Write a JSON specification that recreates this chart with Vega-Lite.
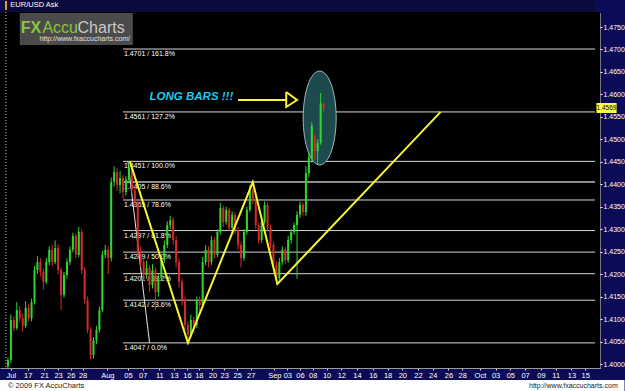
{
  "$schema": "https://vega.github.io/schema/vega-lite/v6.json",
  "width": 600,
  "height": 356,
  "autosize": {"type": "none"},
  "padding": {"left": 0, "top": 12, "right": 25, "bottom": 23},
  "background": "#0b0b58",
  "config": {
    "view": {"fill": "#000000", "stroke": null},
    "font": "Liberation Sans",
    "text": {"font": "Liberation Sans"}
  },
  "resolve": {"axis": {"x": "independent", "y": "independent"}},
  "datasets": {
    "candles": [
      {"t":1,"o":1.3995,"h":1.4014,"l":1.3991,"c":1.4009},
      {"t":2,"o":1.4009,"h":1.4110,"l":1.4002,"c":1.4098},
      {"t":3,"o":1.4098,"h":1.4106,"l":1.4073,"c":1.4080},
      {"t":4,"o":1.4080,"h":1.4138,"l":1.4076,"c":1.4120},
      {"t":5,"o":1.4120,"h":1.4129,"l":1.4094,"c":1.4102},
      {"t":6,"o":1.4102,"h":1.4112,"l":1.4072,"c":1.4085},
      {"t":7,"o":1.4085,"h":1.4140,"l":1.4080,"c":1.4125},
      {"t":8,"o":1.4125,"h":1.4133,"l":1.4095,"c":1.4102},
      {"t":9,"o":1.4102,"h":1.4145,"l":1.4095,"c":1.4138},
      {"t":10,"o":1.4138,"h":1.4218,"l":1.4132,"c":1.4209},
      {"t":11,"o":1.4209,"h":1.4240,"l":1.4200,"c":1.4227},
      {"t":12,"o":1.4227,"h":1.4235,"l":1.4195,"c":1.4205},
      {"t":13,"o":1.4205,"h":1.4212,"l":1.4165,"c":1.4183},
      {"t":14,"o":1.4183,"h":1.4236,"l":1.4178,"c":1.4227},
      {"t":15,"o":1.4227,"h":1.4262,"l":1.4220,"c":1.4254},
      {"t":16,"o":1.4254,"h":1.4265,"l":1.4218,"c":1.4227},
      {"t":17,"o":1.4227,"h":1.4275,"l":1.4222,"c":1.4258},
      {"t":18,"o":1.4258,"h":1.4266,"l":1.4200,"c":1.4209},
      {"t":19,"o":1.4209,"h":1.4215,"l":1.4120,"c":1.4154},
      {"t":20,"o":1.4154,"h":1.4205,"l":1.4148,"c":1.4198},
      {"t":21,"o":1.4198,"h":1.4235,"l":1.4190,"c":1.4227},
      {"t":22,"o":1.4227,"h":1.4262,"l":1.4220,"c":1.4254},
      {"t":23,"o":1.4254,"h":1.4292,"l":1.4248,"c":1.4285},
      {"t":24,"o":1.4285,"h":1.4290,"l":1.4236,"c":1.4243},
      {"t":25,"o":1.4243,"h":1.4305,"l":1.4238,"c":1.4294},
      {"t":26,"o":1.4294,"h":1.4300,"l":1.4200,"c":1.4209},
      {"t":27,"o":1.4209,"h":1.4215,"l":1.4135,"c":1.4142},
      {"t":28,"o":1.4142,"h":1.4150,"l":1.4068,"c":1.4076},
      {"t":29,"o":1.4076,"h":1.4082,"l":1.4010,"c":1.4020},
      {"t":30,"o":1.4020,"h":1.4060,"l":1.4012,"c":1.4053},
      {"t":31,"o":1.4053,"h":1.4085,"l":1.4045,"c":1.4076},
      {"t":32,"o":1.4076,"h":1.4128,"l":1.4070,"c":1.4120},
      {"t":33,"o":1.4120,"h":1.4252,"l":1.4115,"c":1.4243},
      {"t":34,"o":1.4243,"h":1.4265,"l":1.4235,"c":1.4254},
      {"t":35,"o":1.4254,"h":1.4262,"l":1.4200,"c":1.4236},
      {"t":36,"o":1.4236,"h":1.4415,"l":1.4228,"c":1.4405},
      {"t":37,"o":1.4405,"h":1.4440,"l":1.4395,"c":1.4427},
      {"t":38,"o":1.4427,"h":1.4436,"l":1.4385,"c":1.4398},
      {"t":39,"o":1.4398,"h":1.4430,"l":1.4380,"c":1.4414},
      {"t":40,"o":1.4414,"h":1.4420,"l":1.4368,"c":1.4383},
      {"t":41,"o":1.4383,"h":1.4418,"l":1.4375,"c":1.4410},
      {"t":42,"o":1.4410,"h":1.4451,"l":1.4402,"c":1.4436},
      {"t":43,"o":1.4436,"h":1.4442,"l":1.4380,"c":1.4387},
      {"t":44,"o":1.4387,"h":1.4395,"l":1.4350,"c":1.4361},
      {"t":45,"o":1.4361,"h":1.4368,"l":1.4232,"c":1.4243},
      {"t":46,"o":1.4243,"h":1.4262,"l":1.4215,"c":1.4227},
      {"t":47,"o":1.4227,"h":1.4235,"l":1.4185,"c":1.4198},
      {"t":48,"o":1.4198,"h":1.4230,"l":1.4190,"c":1.4214},
      {"t":49,"o":1.4214,"h":1.4220,"l":1.4160,"c":1.4176},
      {"t":50,"o":1.4176,"h":1.4222,"l":1.4168,"c":1.4209},
      {"t":51,"o":1.4209,"h":1.4215,"l":1.4120,"c":1.4160},
      {"t":52,"o":1.4160,"h":1.4200,"l":1.4150,"c":1.4191},
      {"t":53,"o":1.4191,"h":1.4240,"l":1.4185,"c":1.4231},
      {"t":54,"o":1.4231,"h":1.4275,"l":1.4225,"c":1.4265},
      {"t":55,"o":1.4265,"h":1.4318,"l":1.4258,"c":1.4309},
      {"t":56,"o":1.4309,"h":1.4330,"l":1.4300,"c":1.4320},
      {"t":57,"o":1.4320,"h":1.4326,"l":1.4265,"c":1.4276},
      {"t":58,"o":1.4276,"h":1.4285,"l":1.4215,"c":1.4227},
      {"t":59,"o":1.4227,"h":1.4235,"l":1.4170,"c":1.4183},
      {"t":60,"o":1.4183,"h":1.4190,"l":1.4130,"c":1.4142},
      {"t":61,"o":1.4142,"h":1.4150,"l":1.4075,"c":1.4087},
      {"t":62,"o":1.4087,"h":1.4095,"l":1.4047,"c":1.4065},
      {"t":63,"o":1.4065,"h":1.4110,"l":1.4058,"c":1.4098},
      {"t":64,"o":1.4098,"h":1.4105,"l":1.4070,"c":1.4087},
      {"t":65,"o":1.4087,"h":1.4150,"l":1.4080,"c":1.4142},
      {"t":66,"o":1.4142,"h":1.4150,"l":1.4110,"c":1.4131},
      {"t":67,"o":1.4131,"h":1.4238,"l":1.4125,"c":1.4227},
      {"t":68,"o":1.4227,"h":1.4265,"l":1.4220,"c":1.4254},
      {"t":69,"o":1.4254,"h":1.4262,"l":1.4215,"c":1.4227},
      {"t":70,"o":1.4227,"h":1.4285,"l":1.4220,"c":1.4276},
      {"t":71,"o":1.4276,"h":1.4282,"l":1.4235,"c":1.4243},
      {"t":72,"o":1.4243,"h":1.4300,"l":1.4238,"c":1.4294},
      {"t":73,"o":1.4294,"h":1.4358,"l":1.4288,"c":1.4347},
      {"t":74,"o":1.4347,"h":1.4352,"l":1.4305,"c":1.4316},
      {"t":75,"o":1.4316,"h":1.4350,"l":1.4310,"c":1.4343},
      {"t":76,"o":1.4343,"h":1.4348,"l":1.4295,"c":1.4303},
      {"t":77,"o":1.4303,"h":1.4340,"l":1.4296,"c":1.4332},
      {"t":78,"o":1.4332,"h":1.4338,"l":1.4290,"c":1.4298},
      {"t":79,"o":1.4298,"h":1.4305,"l":1.4255,"c":1.4265},
      {"t":80,"o":1.4265,"h":1.4272,"l":1.4215,"c":1.4236},
      {"t":81,"o":1.4236,"h":1.4300,"l":1.4230,"c":1.4294},
      {"t":82,"o":1.4294,"h":1.4350,"l":1.4288,"c":1.4343},
      {"t":83,"o":1.4343,"h":1.4398,"l":1.4338,"c":1.4387},
      {"t":84,"o":1.4387,"h":1.4392,"l":1.4355,"c":1.4365},
      {"t":85,"o":1.4365,"h":1.4372,"l":1.4300,"c":1.4309},
      {"t":86,"o":1.4309,"h":1.4315,"l":1.4268,"c":1.4276},
      {"t":87,"o":1.4276,"h":1.4325,"l":1.4270,"c":1.4316},
      {"t":88,"o":1.4316,"h":1.4362,"l":1.4310,"c":1.4354},
      {"t":89,"o":1.4354,"h":1.4360,"l":1.4295,"c":1.4303},
      {"t":90,"o":1.4303,"h":1.4310,"l":1.4255,"c":1.4265},
      {"t":91,"o":1.4265,"h":1.4272,"l":1.4210,"c":1.4220},
      {"t":92,"o":1.4220,"h":1.4228,"l":1.4178,"c":1.4191},
      {"t":93,"o":1.4191,"h":1.4236,"l":1.4185,"c":1.4227},
      {"t":94,"o":1.4227,"h":1.4262,"l":1.4220,"c":1.4254},
      {"t":95,"o":1.4254,"h":1.4260,"l":1.4222,"c":1.4231},
      {"t":96,"o":1.4231,"h":1.4285,"l":1.4225,"c":1.4276},
      {"t":97,"o":1.4276,"h":1.4300,"l":1.4268,"c":1.4294},
      {"t":98,"o":1.4294,"h":1.4315,"l":1.4288,"c":1.4309},
      {"t":99,"o":1.4309,"h":1.4340,"l":1.4190,"c":1.4332},
      {"t":100,"o":1.4332,"h":1.4362,"l":1.4325,"c":1.4354},
      {"t":101,"o":1.4354,"h":1.4360,"l":1.4330,"c":1.4338},
      {"t":102,"o":1.4338,"h":1.4440,"l":1.4330,"c":1.4425},
      {"t":103,"o":1.4425,"h":1.4470,"l":1.4415,"c":1.4460},
      {"t":104,"o":1.4455,"h":1.4538,"l":1.4448,"c":1.4530},
      {"t":105,"o":1.4505,"h":1.4512,"l":1.4455,"c":1.4474},
      {"t":106,"o":1.4474,"h":1.4500,"l":1.4445,"c":1.4492},
      {"t":107,"o":1.4492,"h":1.4603,"l":1.4488,"c":1.4580},
      {"t":108,"o":1.4578,"h":1.4582,"l":1.4560,"c":1.4569}
    ],
    "fib": [
      {"p":1.4701,"label":"1.4701 / 161.8%","pct":"161.8"},
      {"p":1.4561,"label":"1.4561 / 127.2%","pct":"127.2"},
      {"p":1.4451,"label":"1.4451 / 100.0%","pct":"100.0"},
      {"p":1.4405,"label":"1.4405 / 88.6%","pct":"88.6"},
      {"p":1.4365,"label":"1.4365 / 78.6%","pct":"78.6"},
      {"p":1.4297,"label":"1.4297 / 61.8%","pct":"61.8"},
      {"p":1.4249,"label":"1.4249 / 50.0%","pct":"50.0"},
      {"p":1.4201,"label":"1.4201 / 38.2%","pct":"38.2"},
      {"p":1.4142,"label":"1.4142 / 23.6%","pct":"23.6"},
      {"p":1.4047,"label":"1.4047 / 0.0%","pct":"0.0"}
    ],
    "zig": [
      {"t":42.33,"p":1.4451,"i":0},
      {"t":62,"p":1.4047,"i":1},
      {"t":84,"p":1.4405,"i":2},
      {"t":92.33,"p":1.4178,"i":3},
      {"t":147.67,"p":1.4561,"i":4}
    ],
    "diag": [
      {"t":41.67,"p":1.4451,"i":0},
      {"t":49,"p":1.4047,"i":1}
    ],
    "head": [
      {"t":95.33,"p":1.46054,"i":0},
      {"t":99,"p":1.45876,"i":1},
      {"t":95.33,"p":1.4572,"i":2},
      {"t":95.33,"p":1.46054,"i":3}
    ],
    "ellipse": [{"t":106.67,"p":1.45475}]
  },
  "layer": [
    {
      "data": {"values": [{"name": "titlebar"}]},
      "mark": {"type": "rect", "color": "#0a0a3c"},
      "encoding": {
        "x": {"datum": -1, "type": "quantitative", "scale": {"domain": [0, 200], "nice": false, "zero": false}, "axis": null},
        "x2": {"datum": 200},
        "y": {"datum": 1.47834, "type": "quantitative", "scale": {"domain": [1.39911, 1.47834], "nice": false, "zero": false}, "axis": null},
        "y2": {"datum": 1.4815}
      }
    },
    {
      "data": {"values": [{"name": "marker"}]},
      "mark": {"type": "rect", "color": "#e8a020"},
      "encoding": {
        "x": {"datum": 0, "type": "quantitative", "scale": {"domain": [0, 200], "nice": false, "zero": false}, "axis": null},
        "x2": {"datum": 0.67},
        "y": {"datum": 1.47878, "type": "quantitative", "scale": {"domain": [1.39911, 1.47834], "nice": false, "zero": false}, "axis": null},
        "y2": {"datum": 1.48078}
      }
    },
    {
      "data": {"values": [{"name": "footer"}]},
      "mark": {"type": "rect", "color": "#ffffff"},
      "encoding": {
        "x": {"datum": -2, "type": "quantitative", "scale": {"domain": [0, 200], "nice": false, "zero": false}, "axis": null},
        "x2": {"datum": 210},
        "y": {"datum": 1.3930, "type": "quantitative", "scale": {"domain": [1.39911, 1.47834], "nice": false, "zero": false}, "axis": null},
        "y2": {"datum": 1.39644}
      }
    },
    {
      "data": {"values": [{"name": "logo"}]},
      "mark": {"type": "rect", "color": "#4b4b4b"},
      "encoding": {
        "x": {"datum": 5, "type": "quantitative", "scale": {"domain": [0, 200], "nice": false, "zero": false}, "axis": null},
        "x2": {"datum": 43.33},
        "y": {"datum": 1.471, "type": "quantitative", "scale": {"domain": [1.39911, 1.47834], "nice": false, "zero": false}, "axis": null},
        "y2": {"datum": 1.47812}
      }
    },
    {
      "data": {"name": "fib"},
      "mark": {"type": "rule"},
      "encoding": {
        "x": {"datum": 40, "type": "quantitative", "scale": {"domain": [0, 200], "nice": false, "zero": false}, "axis": null},
        "x2": {"datum": 200},
        "y": {"field": "p", "type": "quantitative", "scale": {"domain": [1.39911, 1.47834], "nice": false, "zero": false}, "axis": null},
        "color": {"condition": {"test": "datum.pct == '88.6'", "value": "#8c8c8c"}, "value": "#d8d8d8"},
        "strokeWidth": {"condition": {"test": "datum.pct == '88.6'", "value": 2}, "value": 1}
      }
    },
    {
      "data": {"name": "fib"},
      "mark": {"type": "text", "align": "left", "baseline": "middle", "dy": 5, "fontSize": 7, "color": "#ffffff"},
      "encoding": {
        "x": {"datum": 40.3, "type": "quantitative", "scale": {"domain": [0, 200], "nice": false, "zero": false}, "axis": null},
        "y": {"field": "p", "type": "quantitative", "scale": {"domain": [1.39911, 1.47834], "nice": false, "zero": false}, "axis": null},
        "text": {"field": "label"}
      }
    },
    {
      "data": {"name": "diag"},
      "mark": {"type": "line", "color": "#e8e8e8", "strokeWidth": 1},
      "encoding": {
        "x": {"field": "t", "type": "quantitative", "scale": {"domain": [0, 200], "nice": false, "zero": false}, "axis": null},
        "y": {"field": "p", "type": "quantitative", "scale": {"domain": [1.39911, 1.47834], "nice": false, "zero": false}, "axis": null},
        "order": {"field": "i"}
      }
    },
    {
      "data": {"name": "ellipse"},
      "mark": {"type": "point", "shape": "M0.351,0C0.351,0.552,0.194,1,0,1C-0.194,1,-0.351,0.552,-0.351,0C-0.351,-0.552,-0.194,-1,0,-1C0.194,-1,0.351,-0.552,0.351,0Z", "size": 8836, "filled": true, "fill": "#1d4a4c", "stroke": "#a4b8b8", "strokeWidth": 1, "opacity": 1, "fillOpacity": 1, "strokeOpacity": 1},
      "encoding": {
        "x": {"field": "t", "type": "quantitative", "scale": {"domain": [0, 200], "nice": false, "zero": false}, "axis": null},
        "y": {"field": "p", "type": "quantitative", "scale": {"domain": [1.39911, 1.47834], "nice": false, "zero": false}, "axis": null}
      }
    },
    {
      "data": {"name": "candles"},
      "mark": {"type": "rule", "strokeWidth": 1},
      "encoding": {
        "x": {"field": "t", "type": "quantitative", "scale": {"domain": [0, 200], "nice": false, "zero": false}, "axis": null},
        "y": {"field": "l", "type": "quantitative", "scale": {"domain": [1.39911, 1.47834], "nice": false, "zero": false}, "axis": null},
        "y2": {"field": "h"},
        "color": {"condition": {"test": "datum.c >= datum.o", "value": "#2fd62f"}, "value": "#d42a2a"}
      }
    },
    {
      "data": {"name": "candles"},
      "mark": {"type": "bar", "width": 2},
      "encoding": {
        "x": {"field": "t", "type": "quantitative", "scale": {"domain": [0, 200], "nice": false, "zero": false},
          "axis": {"orient": "bottom", "title": null, "grid": false,
            "values": [2,7.7,13.3,18,22.3,26.3,34.7,41.7,46.7,52.3,57.3,61.7,65.7,70.3,74.3,78.7,83.3,91.3,95.7,100,104.3,109,114,119.3,124.7,129.7,134.7,140,145,150.3,155,161,166.3,171.3,176.3,181.7,186.7,192,196.7],
            "labelExpr": "['Jul','17','21','23','26','28','Aug','05','07','11','13','16','18','20','23','25','27','Sep','03','06','08','10','12','14','16','18','20','22','24','26','28','Oct','03','05','07','09','11','13','15'][indexof([2,7.7,13.3,18,22.3,26.3,34.7,41.7,46.7,52.3,57.3,61.7,65.7,70.3,74.3,78.7,83.3,91.3,95.7,100,104.3,109,114,119.3,124.7,129.7,134.7,140,145,150.3,155,161,166.3,171.3,176.3,181.7,186.7,192,196.7], datum.value)]",
            "labelColor": "#ffffff", "labelFont": "Liberation Sans", "labelFontSize": 7.5, "labelPadding": 1,
            "labelOverlap": false, "labelFlush": false, "labelBound": false,
            "tickColor": "#dddddd", "tickSize": 2, "domainColor": "#9a9a9a"}},
        "y": {"field": "o", "type": "quantitative", "scale": {"domain": [1.39911, 1.47834], "nice": false, "zero": false},
          "axis": {"orient": "right", "title": null, "grid": false,
            "values": [1.4,1.405,1.41,1.415,1.42,1.425,1.43,1.435,1.44,1.445,1.45,1.455,1.46,1.465,1.47,1.475],
            "format": ".4f", "labelColor": "#ffffff", "labelFont": "Liberation Sans", "labelFontSize": 7, "labelPadding": 1,
            "labelOverlap": false, "labelFlush": false, "labelBound": false,
            "tickColor": "#ffffff", "tickSize": 2, "domainColor": "#e8e0a8", "domainDash": [1, 1]}},
        "y2": {"field": "c"},
        "color": {"condition": {"test": "datum.c >= datum.o", "value": "#2fd62f"}, "value": "#d42a2a"}
      }
    },
    {
      "data": {"name": "zig"},
      "mark": {"type": "line", "color": "#f5f532", "strokeWidth": 2},
      "encoding": {
        "x": {"field": "t", "type": "quantitative", "scale": {"domain": [0, 200], "nice": false, "zero": false}, "axis": null},
        "y": {"field": "p", "type": "quantitative", "scale": {"domain": [1.39911, 1.47834], "nice": false, "zero": false}, "axis": null},
        "order": {"field": "i"}
      }
    },
    {
      "data": {"name": "head"},
      "mark": {"type": "line", "color": "#f5f532", "strokeWidth": 2},
      "encoding": {
        "x": {"field": "t", "type": "quantitative", "scale": {"domain": [0, 200], "nice": false, "zero": false}, "axis": null},
        "y": {"field": "p", "type": "quantitative", "scale": {"domain": [1.39911, 1.47834], "nice": false, "zero": false}, "axis": null},
        "order": {"field": "i"}
      }
    },
    {
      "data": {"values": [{"name": "shaft"}]},
      "mark": {"type": "rule", "color": "#f5f532", "strokeWidth": 2},
      "encoding": {
        "x": {"datum": 79, "type": "quantitative", "scale": {"domain": [0, 200], "nice": false, "zero": false}, "axis": null},
        "x2": {"datum": 95.33},
        "y": {"datum": 1.45876, "type": "quantitative", "scale": {"domain": [1.39911, 1.47834], "nice": false, "zero": false}, "axis": null}
      }
    },
    {
      "data": {"values": [{"name": "leftaxis"}]},
      "mark": {"type": "rule", "color": "#cccccc", "strokeDash": [1, 2], "strokeWidth": 1},
      "encoding": {
        "x": {"datum": 0.3, "type": "quantitative", "scale": {"domain": [0, 200], "nice": false, "zero": false}, "axis": null}
      }
    },
    {
      "data": {"values": [{"name": "pricetag"}]},
      "mark": {"type": "rect", "color": "#ffff40"},
      "encoding": {
        "x": {"datum": 200.5, "type": "quantitative", "scale": {"domain": [0, 200], "nice": false, "zero": false}, "axis": null},
        "x2": {"datum": 207.33},
        "y": {"datum": 1.45586, "type": "quantitative", "scale": {"domain": [1.39911, 1.47834], "nice": false, "zero": false}, "axis": null},
        "y2": {"datum": 1.45809}
      }
    },
    {
      "data": {"values": [{"txt": "1.4569"}]},
      "mark": {"type": "text", "align": "center", "baseline": "middle", "fontSize": 6.5, "color": "#000000"},
      "encoding": {
        "x": {"datum": 203.9, "type": "quantitative", "scale": {"domain": [0, 200], "nice": false, "zero": false}, "axis": null},
        "y": {"datum": 1.45697, "type": "quantitative", "scale": {"domain": [1.39911, 1.47834], "nice": false, "zero": false}, "axis": null},
        "text": {"field": "txt"}
      }
    },
    {
      "data": {"values": [{"txt": "LONG BARS !!!"}]},
      "mark": {"type": "text", "align": "left", "baseline": "middle", "fontSize": 11.5, "fontWeight": "bold", "fontStyle": "italic", "color": "#22c8ee"},
      "encoding": {
        "x": {"datum": 49, "type": "quantitative", "scale": {"domain": [0, 200], "nice": false, "zero": false}, "axis": null},
        "y": {"datum": 1.45943, "type": "quantitative", "scale": {"domain": [1.39911, 1.47834], "nice": false, "zero": false}, "axis": null},
        "text": {"field": "txt"}
      }
    },
    {
      "data": {"values": [{"txt": "EUR/USD Ask"}]},
      "mark": {"type": "text", "align": "left", "baseline": "middle", "fontSize": 7.5, "color": "#ffffff"},
      "encoding": {
        "x": {"datum": 1.8, "type": "quantitative", "scale": {"domain": [0, 200], "nice": false, "zero": false}, "axis": null},
        "y": {"datum": 1.4799, "type": "quantitative", "scale": {"domain": [1.39911, 1.47834], "nice": false, "zero": false}, "axis": null},
        "text": {"field": "txt"}
      }
    },
    {
      "data": {"values": [{"txt": "FX"}]},
      "mark": {"type": "text", "align": "left", "baseline": "alphabetic", "fontSize": 16, "fontWeight": "bold", "color": "#8cc63f"},
      "encoding": {
        "x": {"datum": 5.33, "type": "quantitative", "scale": {"domain": [0, 200], "nice": false, "zero": false}, "axis": null},
        "y": {"datum": 1.47367, "type": "quantitative", "scale": {"domain": [1.39911, 1.47834], "nice": false, "zero": false}, "axis": null},
        "text": {"field": "txt"}
      }
    },
    {
      "data": {"values": [{"txt": "Accu"}]},
      "mark": {"type": "text", "align": "left", "baseline": "alphabetic", "fontSize": 16, "color": "#8cc63f"},
      "encoding": {
        "x": {"datum": 12.67, "type": "quantitative", "scale": {"domain": [0, 200], "nice": false, "zero": false}, "axis": null},
        "y": {"datum": 1.47367, "type": "quantitative", "scale": {"domain": [1.39911, 1.47834], "nice": false, "zero": false}, "axis": null},
        "text": {"field": "txt"}
      }
    },
    {
      "data": {"values": [{"txt": "Charts"}]},
      "mark": {"type": "text", "align": "left", "baseline": "alphabetic", "fontSize": 16, "color": "#c8c8c8"},
      "encoding": {
        "x": {"datum": 24.6, "type": "quantitative", "scale": {"domain": [0, 200], "nice": false, "zero": false}, "axis": null},
        "y": {"datum": 1.47367, "type": "quantitative", "scale": {"domain": [1.39911, 1.47834], "nice": false, "zero": false}, "axis": null},
        "text": {"field": "txt"}
      }
    },
    {
      "data": {"values": [{"txt": "http://www.fxaccucharts.com/"}]},
      "mark": {"type": "text", "align": "left", "baseline": "middle", "fontSize": 7, "color": "#e0e0e0"},
      "encoding": {
        "x": {"datum": 11.67, "type": "quantitative", "scale": {"domain": [0, 200], "nice": false, "zero": false}, "axis": null},
        "y": {"datum": 1.47233, "type": "quantitative", "scale": {"domain": [1.39911, 1.47834], "nice": false, "zero": false}, "axis": null},
        "text": {"field": "txt"}
      }
    },
    {
      "data": {"values": [{"txt": "© 2009 FX AccuCharts"}]},
      "mark": {"type": "text", "align": "left", "baseline": "middle", "fontSize": 7.5, "color": "#222222"},
      "encoding": {
        "x": {"datum": 1, "type": "quantitative", "scale": {"domain": [0, 200], "nice": false, "zero": false}, "axis": null},
        "y": {"datum": 1.3951, "type": "quantitative", "scale": {"domain": [1.39911, 1.47834], "nice": false, "zero": false}, "axis": null},
        "text": {"field": "txt"}
      }
    },
    {
      "data": {"values": [{"txt": "http://www.fxaccucharts.com"}]},
      "mark": {"type": "text", "align": "right", "baseline": "middle", "fontSize": 7, "color": "#222222"},
      "encoding": {
        "x": {"datum": 207.7, "type": "quantitative", "scale": {"domain": [0, 200], "nice": false, "zero": false}, "axis": null},
        "y": {"datum": 1.3951, "type": "quantitative", "scale": {"domain": [1.39911, 1.47834], "nice": false, "zero": false}, "axis": null},
        "text": {"field": "txt"}
      }
    }
  ]
}
